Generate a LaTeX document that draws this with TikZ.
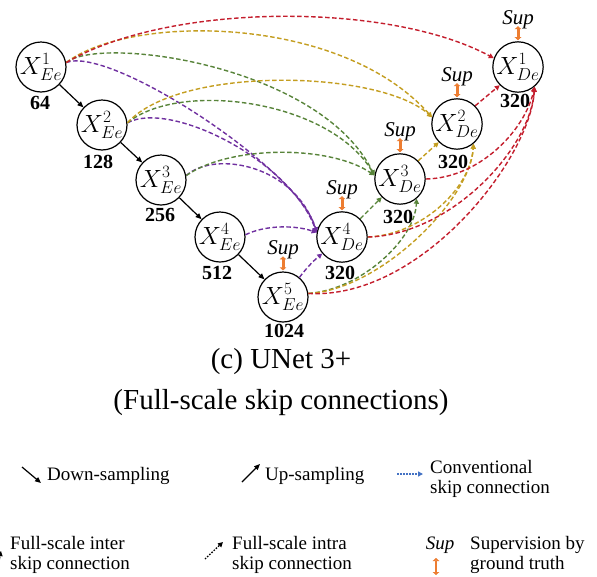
\documentclass[tikz,border=0pt]{standalone}
\usepackage{fontspec}
\setmainfont{Liberation Serif}
\usetikzlibrary{arrows.meta}
\definecolor{cred}{RGB}{196,30,45}
\definecolor{cyel}{RGB}{196,158,32}
\definecolor{cgrn}{RGB}{88,132,58}
\definecolor{cpur}{RGB}{112,48,160}
\definecolor{corg}{RGB}{237,125,49}
\definecolor{cblu}{RGB}{68,114,196}
\begin{document}
\begin{tikzpicture}[x=1pt,y=-1pt,
 unit/.style={circle,draw=black,line width=1.2pt,minimum size=50pt,inner sep=0pt,font=\fontsize{27}{29}\selectfont},
 chan/.style={font=\fontsize{20}{22}\selectfont\bfseries,inner sep=0pt},
 suplab/.style={font=\fontsize{21}{22}\selectfont\itshape,inner sep=0pt},
 downarr/.style={-{Triangle[length=6pt,width=5pt]},line width=1.2pt,black},
 skipline/.style={line width=1.4pt,dash pattern=on 4.5pt off 2.5pt,-{Triangle[length=5pt,width=5pt]}},
 suparrow/.style={corg,line width=3pt,{Triangle[length=3pt,width=6.5pt]}-{Triangle[length=3pt,width=6.5pt]}},
 legtext/.style={font=\fontsize{19}{20.5}\selectfont,align=left,anchor=west,inner sep=0pt},
 captext/.style={font=\fontsize{29}{32}\selectfont,inner sep=0pt},
 ]
\useasboundingbox (0,0) rectangle (597,576);
\fill[white] (0,0) rectangle (597,576);

% nodes
\node[unit] (E1) at (41,67) {$X^{1}_{Ee}$};
\node[unit] (E2) at (102,125) {$X^{2}_{Ee}$};
\node[unit] (E3) at (161,180) {$X^{3}_{Ee}$};
\node[unit] (E4) at (220,237) {$X^{4}_{Ee}$};
\node[unit] (E5) at (283,297) {$X^{5}_{Ee}$};
\node[unit] (D4) at (342,237) {$X^{4}_{De}$};
\node[unit] (D3) at (400,179) {$X^{3}_{De}$};
\node[unit] (D2) at (457,124) {$X^{2}_{De}$};
\node[unit] (D1) at (518,67) {$X^{1}_{De}$};

% channel numbers
\node[chan] (c1) at (40,103) {64};
\node[chan] (c2) at (98,162) {128};
\node[chan] (c3) at (160,215) {256};
\node[chan] (c4) at (217,273) {512};
\node[chan] (c5) at (284,331) {1024};
\node[chan] (d4) at (340,273) {320};
\node[chan] (d3) at (398,217) {320};
\node[chan] (d2) at (453,162) {320};
\node[chan] (d1) at (515,101) {320};

% supervision
\node[suplab] (s5) at (283,250) {Sup};
\node[suplab] (s4) at (342,190) {Sup};
\node[suplab] (s3) at (400,132) {Sup};
\node[suplab] (s2) at (457,77) {Sup};
\node[suplab] (s1) at (518,20) {Sup};
\foreach \n in {E5,D4,D3,D2,D1}{
  \draw[suparrow] ([yshift=1pt]\n.north) -- ([yshift=15pt]\n.north);
}

% down-sampling
\draw[downarr] (E1) -- (E2);
\draw[downarr] (E2) -- (E3);
\draw[downarr] (E3) -- (E4);
\draw[downarr] (E4) -- (E5);

% purple: into D4
\draw[skipline,cpur] (E1.10) .. controls (110,45) and (300,170) .. (D4.170);
\draw[skipline,cpur] (E2.5) .. controls (170,100) and (290,160) .. (D4.170);
\draw[skipline,cpur] (E3.10) .. controls (215,150) and (295,165) .. (D4.170);
\draw[skipline,cpur] (E4.5) .. controls (265,225) and (295,225) .. (D4.170);
\draw[skipline,cpur] (E5.50) .. controls (305,270) and (312,262) .. (D4.-140);

% green: into D3
\draw[skipline,cgrn] (E1.10) .. controls (100,35) and (320,65) .. (D3.172);
\draw[skipline,cgrn] (E2.5) .. controls (180,80) and (330,100) .. (D3.172);
\draw[skipline,cgrn] (E3.10) .. controls (230,145) and (330,145) .. (D3.172);
\draw[skipline,cgrn] (D4.45) -- (D3.-135);
\draw[skipline,cgrn] (E5.8) .. controls (360,290) and (415,240) .. (D3.-50);

% yellow: into D2
\draw[skipline,cyel] (E1.10) .. controls (130,14) and (340,14) .. (D2.165);
\draw[skipline,cyel] (E2.5) .. controls (180,65) and (380,70) .. (D2.165);
\draw[skipline,cyel] (D3.45) -- (D2.-135);
\draw[skipline,cyel] (D4.0) .. controls (420,235) and (470,190) .. (D2.-50);
\draw[skipline,cyel] (E5.8) .. controls (380,290) and (470,200) .. (D2.-50);

% red: into D1
\draw[skipline,cred] (E1.10) .. controls (170,2) and (390,2) .. (D1.160);
\draw[skipline,cred] (D2.45) -- (D1.-135);
\draw[skipline,cred] (D3.0) .. controls (480,178) and (525,130) .. (D1.-50);
\draw[skipline,cred] (D4.0) .. controls (450,235) and (530,150) .. (D1.-50);
\draw[skipline,cred] (E5.8) .. controls (420,300) and (530,160) .. (D1.-50);

% captions
\node[captext] (cap1) at (281,362) {(c) UNet 3+};
\node[captext] (cap2) at (281,403) {(Full-scale skip connections)};

% legend
\coordinate (ldA) at (22,467); \coordinate (ldB) at (41,483);
\draw[downarr] (ldA) -- (ldB);
\node[legtext] (tdown) at (47,476) {Down-sampling};
\coordinate (luA) at (242,482); \coordinate (luB) at (260,464);
\draw[downarr] (luA) -- (luB);
\node[legtext] (tup) at (265,476) {Up-sampling};
\coordinate (lcA) at (397,474); \coordinate (lcB) at (423,474);
\draw[cblu,line width=1.3pt,dash pattern=on 1.5pt off 1.5pt,-{Triangle[length=5pt,width=5pt]}] (lcA) -- (lcB);
\node[legtext] (tconv) at (430,479) {Conventional\\skip connection};
\coordinate (liA) at (-8,578); \coordinate (liB) at (1,551);
\draw[black,line width=1.3pt,dash pattern=on 3pt off 2pt,-{Triangle[length=5pt,width=5pt]}] (liA) .. controls (-2,566) .. (liB);
\node[legtext] (tinter) at (10,555) {Full-scale inter\\skip connection};
\coordinate (ltA) at (205,559); \coordinate (ltB) at (223,542);
\draw[black,line width=1.3pt,dash pattern=on 1.5pt off 1.5pt,-{Triangle[length=5pt,width=5pt]}] (ltA) -- (ltB);
\node[legtext] (tintra) at (232,555) {Full-scale intra\\skip connection};
\node[suplab,font=\fontsize{19}{20}\selectfont\itshape] (tsupw) at (440,545) {Sup};
\coordinate (lsA) at (436,575); \coordinate (lsB) at (436,558);
\draw[suparrow,line width=2.5pt] (lsA) -- (lsB);
\node[legtext] (tsup) at (470,555) {Supervision by\\ground truth};
\end{tikzpicture}
\end{document}
